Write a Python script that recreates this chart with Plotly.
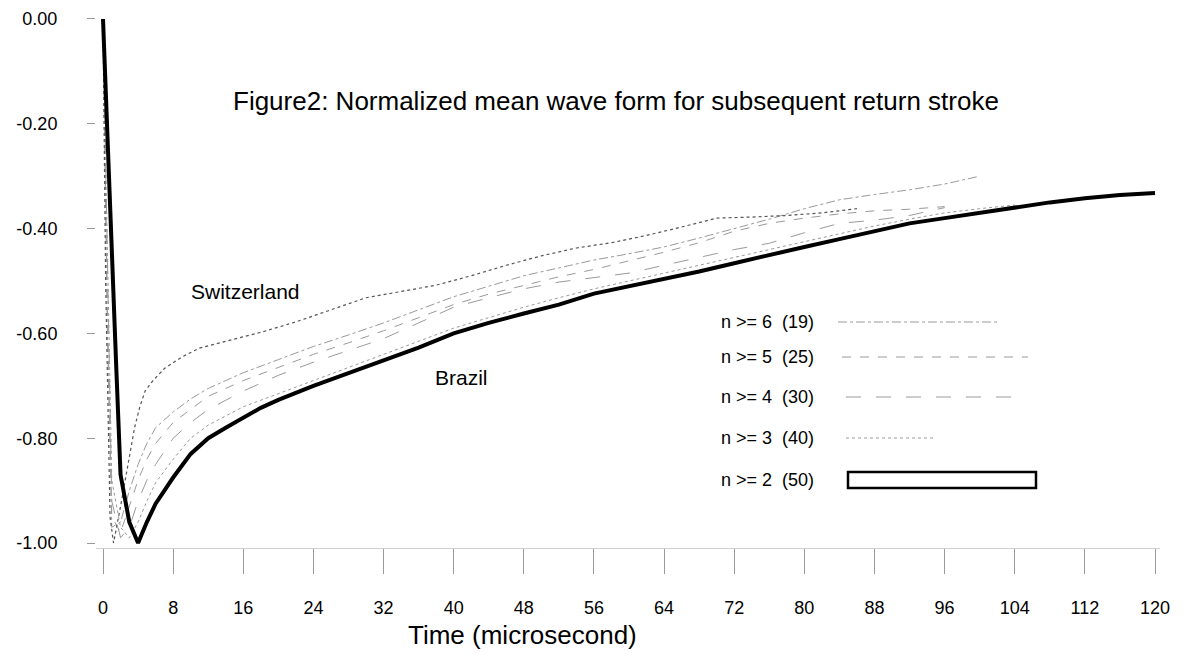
import plotly.graph_objects as go

# ---------------- data ----------------
t_brazil = [0, 0.5, 1, 1.5, 2, 3, 4, 5, 6, 7, 8, 10, 12, 14, 16, 18, 20, 24, 28, 32, 36, 40, 44, 48,
            52, 56, 60, 64, 68, 72, 76, 80, 84, 88, 92, 96, 100, 104, 108, 112, 116, 120]
v_brazil = [0, -0.20, -0.44, -0.66, -0.87, -0.96, -1.00, -0.96, -0.925, -0.90, -0.875, -0.83, -0.80,
            -0.78, -0.76, -0.742, -0.727, -0.70, -0.676, -0.652, -0.627, -0.60, -0.58, -0.562, -0.545,
            -0.524, -0.51, -0.497, -0.482, -0.466, -0.45, -0.435, -0.42, -0.405, -0.39, -0.38, -0.37,
            -0.36, -0.35, -0.342, -0.336, -0.332]

t_swiss = [0, 0.3, 0.8, 1.2, 2, 3, 3.6, 4.2, 4.8, 5.7, 7, 9, 11, 14, 18, 22, 26, 30, 34, 38, 42, 46,
           50, 54, 58, 62, 66, 70, 74, 78, 82, 86]
v_swiss = [0, -0.5, -0.95, -1.0, -0.93, -0.84, -0.78, -0.74, -0.71, -0.69, -0.667, -0.645, -0.628,
           -0.615, -0.598, -0.578, -0.555, -0.532, -0.52, -0.508, -0.49, -0.47, -0.452, -0.437, -0.427,
           -0.413, -0.397, -0.38, -0.378, -0.375, -0.37, -0.362]

t_n3 = [0, 0.5, 1, 2, 3, 4, 5, 6, 8, 10, 12, 16, 20, 24, 28, 32, 36, 40, 44, 48, 52, 56, 60, 64, 68,
        72, 76, 80, 84, 88, 92, 96, 100, 104]
v_n3 = [0, -0.45, -0.88, -0.97, -0.99, -0.96, -0.92, -0.885, -0.84, -0.80, -0.775, -0.74, -0.715,
        -0.69, -0.665, -0.64, -0.615, -0.59, -0.57, -0.55, -0.532, -0.515, -0.50, -0.485, -0.47,
        -0.455, -0.44, -0.425, -0.41, -0.395, -0.382, -0.37, -0.362, -0.355]

t_n4 = [0, 0.5, 1, 2, 3, 4, 5, 6, 8, 10, 12, 16, 20, 24, 28, 32, 36, 40, 44, 48, 52, 56, 60, 64, 68,
        72, 76, 80, 84, 88, 92, 96]
v_n4 = [0, -0.5, -0.92, -0.99, -0.97, -0.92, -0.88, -0.85, -0.80, -0.77, -0.745, -0.71, -0.68,
        -0.655, -0.632, -0.61, -0.58, -0.55, -0.532, -0.515, -0.502, -0.494, -0.485, -0.47, -0.455,
        -0.44, -0.428, -0.408, -0.39, -0.384, -0.375, -0.36]

t_n5 = [0, 0.5, 1, 2, 3, 4, 5, 6, 8, 10, 12, 16, 20, 24, 28, 32, 36, 40, 44, 48, 52, 56, 60, 64, 68,
        72, 76, 80, 84, 88, 92, 96]
v_n5 = [0, -0.55, -0.95, -0.98, -0.93, -0.88, -0.84, -0.81, -0.77, -0.745, -0.72, -0.69, -0.665,
        -0.64, -0.618, -0.595, -0.57, -0.545, -0.525, -0.508, -0.492, -0.478, -0.462, -0.445, -0.427,
        -0.405, -0.39, -0.38, -0.372, -0.366, -0.363, -0.358]

t_n6 = [0, 0.5, 1, 2, 3, 4, 5, 6, 8, 10, 12, 16, 20, 24, 28, 32, 36, 40, 44, 48, 52, 56, 60, 64, 68,
        72, 76, 80, 84, 88, 92, 96, 100]
v_n6 = [0, -0.6, -0.97, -0.96, -0.9, -0.85, -0.81, -0.78, -0.75, -0.725, -0.705, -0.675, -0.65,
        -0.625, -0.603, -0.58, -0.555, -0.53, -0.51, -0.49, -0.475, -0.46, -0.448, -0.435, -0.418,
        -0.40, -0.382, -0.362, -0.345, -0.335, -0.326, -0.315, -0.30]

legend_labels = ["n >= 6\u00a0\u00a0(19)", "n >= 5\u00a0\u00a0(25)", "n >= 4\u00a0\u00a0(30)",
                 "n >= 3\u00a0\u00a0(40)", "n >= 2\u00a0\u00a0(50)"]

x_ticks = [0, 8, 16, 24, 32, 40, 48, 56, 64, 72, 80, 88, 96, 104, 112, 120]
y_ticks = [0.0, -0.2, -0.4, -0.6, -0.8, -1.0]
y_tick_labels = ["0.00", "-0.20", "-0.40", "-0.60", "-0.80", "-1.00"]

title_text = "Figure2: Normalized mean wave form for subsequent return stroke"
x_title = "Time (microsecond)"

# ---------------- figure ----------------
FONT = "Liberation Sans, Arial, sans-serif"
fig = go.Figure()

dashed = [
    (t_n6, v_n6, "dashdot"),
    (t_n5, v_n5, "dash"),
    (t_n4, v_n4, "longdash"),
    (t_n3, v_n3, "dot"),
]
for t, v, dash in dashed:
    fig.add_trace(go.Scatter(x=t, y=v, mode="lines", showlegend=False,
                             line=dict(color="#9a9a9a", width=1, dash=dash)))

fig.add_trace(go.Scatter(x=t_swiss, y=v_swiss, mode="lines", showlegend=False,
                         line=dict(color="#555555", width=1.2, dash="dot")))
fig.add_trace(go.Scatter(x=t_brazil, y=v_brazil, mode="lines", showlegend=False,
                         line=dict(color="black", width=4)))

# page body adds an 8px offset; margins compensate so the plot area sits at
# screen x 96..1160, y 14..548
OFF = 8
L, R, T, B = 88, 38, 6, 114
W, H = 1190, 654
pw, ph = W - L - R, H - T - B


def px(xs):
    return (xs - OFF - L) / pw


def py(ys):
    return (H - B - (ys - OFF)) / ph


annotations = [
    dict(text=title_text, x=px(616), y=py(101), xref="paper", yref="paper", showarrow=False,
         font=dict(family=FONT, size=26, color="black"), xanchor="center", yanchor="middle"),
    dict(text=x_title, x=px(522), y=py(635), xref="paper", yref="paper", showarrow=False,
         font=dict(family=FONT, size=26, color="black"), xanchor="center", yanchor="middle"),
    dict(text="Switzerland", x=px(189), y=py(292), xref="paper", yref="paper", showarrow=False,
         font=dict(family=FONT, size=21, color="black"), xanchor="left", yanchor="middle"),
    dict(text="Brazil", x=px(433), y=py(377), xref="paper", yref="paper", showarrow=False,
         font=dict(family=FONT, size=21, color="black"), xanchor="left", yanchor="middle"),
]

row_y = [322, 357, 397, 438, 480]
sample_x = [(838, 1000), (842, 1028), (846, 1018), (846, 935), (848, 1036)]
sample_dash = ["dashdot", "dash", "longdash", "dot", None]
shapes = []
for i, lab in enumerate(legend_labels):
    annotations.append(dict(text=lab, x=px(816), y=py(row_y[i]), xref="paper", yref="paper",
                            showarrow=False, xanchor="right", yanchor="middle",
                            font=dict(family=FONT, size=18, color="black")))
    x0, x1 = sample_x[i]
    if sample_dash[i] is None:
        shapes.append(dict(type="rect", xref="paper", yref="paper",
                           x0=px(x0), x1=px(x1), y0=py(row_y[i] - 8), y1=py(row_y[i] + 8),
                           line=dict(color="black", width=2.5), fillcolor="white"))
    else:
        shapes.append(dict(type="line", xref="paper", yref="paper",
                           x0=px(x0), x1=px(x1), y0=py(row_y[i]), y1=py(row_y[i]),
                           line=dict(color="#9a9a9a", width=1, dash=sample_dash[i])))

fig.update_layout(
    width=W, height=H,
    margin=dict(l=L, r=R, t=T, b=B, pad=0, autoexpand=False),
    paper_bgcolor="white", plot_bgcolor="white",
    font=dict(family=FONT, color="black"),
    annotations=annotations,
    shapes=shapes,
    showlegend=False,
)

fig.update_xaxes(
    range=[-0.8, 120.57],
    tickvals=x_ticks,
    ticks="outside", ticklen=25, tickcolor="#9a9a9a", tickwidth=1,
    ticklabelstandoff=18,
    tickfont=dict(family=FONT, size=18, color="black"),
    showline=True, linecolor="#d0d0d0", linewidth=1,
    showgrid=False, zeroline=False, automargin=False,
)
fig.update_yaxes(
    range=[-1.0095, 0.0095],
    tickvals=y_ticks, ticktext=y_tick_labels,
    ticks="outside", ticklen=8, tickcolor="#9a9a9a", tickwidth=1,
    ticklabelstandoff=26,
    tickfont=dict(family=FONT, size=18, color="black"),
    showline=False, showgrid=False, zeroline=False, automargin=False,
)

fig.write_html("out.html")
